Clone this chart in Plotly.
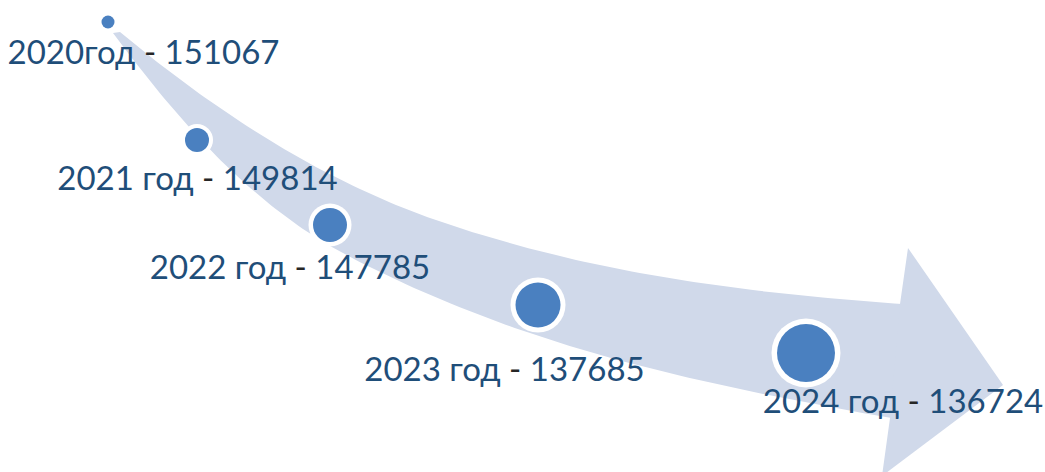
import numpy as np
import plotly.graph_objects as go

# ---- data ----
year_labels = ["2020год", "2021 год", "2022 год", "2023 год", "2024 год"]
values = [151067, 149814, 147785, 137685, 136724]

# ---- layout (pixel positions on a 1045x472 canvas) ----
node_x = [108, 197, 330, 538, 806]
node_y = [22, 140, 225, 305, 353]
inner_d = [13, 24, 34, 45, 58]
outer_d = [17, 32, 43, 55, 69]
label_x = [143.5, 197.5, 290, 504.5, 903]
label_y = [55.5, 182, 271, 373, 404.5]

# arrow outline as cubic bezier segments (decoration geometry)
upper_segs = [[(120, 32), (224, 119), (329, 182.6), (433, 219)],
              [(433, 219), (589, 273.6), (746, 293), (902, 304)]]
lower_segs = [[(113, 33), (200, 150.5), (271, 216), (350, 257)],
              [(350, 257), (530, 350.6), (710, 385.6), (890, 418)]]
head = [(900, 304), (908, 248), (1003, 385), (882, 476), (890, 418), (900, 304)]

BAND = "#D0D9EA"
DOT = "#4A80C0"
TXT = "#1F4E79"
DASH = "#262626"


def bezier(segs, n=60):
    pts = []
    t = np.linspace(0, 1, n)
    for p0, p1, p2, p3 in segs:
        p0, p1, p2, p3 = map(np.array, (p0, p1, p2, p3))
        c = (np.outer((1 - t) ** 3, p0) + np.outer(3 * t * (1 - t) ** 2, p1)
             + np.outer(3 * t ** 2 * (1 - t), p2) + np.outer(t ** 3, p3))
        pts.extend(map(tuple, c))
    return pts


upper = bezier(upper_segs) + [(930, 306)]
lower = bezier(lower_segs) + [(915, 422)]
shaft = upper + lower[::-1]

fig = go.Figure()
fig.add_trace(go.Scatter(
    x=[p[0] for p in shaft], y=[p[1] for p in shaft],
    mode="lines", fill="toself", fillcolor=BAND,
    line=dict(color=BAND, width=0),
    hoverinfo="skip", showlegend=False))
fig.add_trace(go.Scatter(
    x=[p[0] for p in head], y=[p[1] for p in head],
    mode="lines", fill="toself", fillcolor=BAND,
    line=dict(color=BAND, width=0),
    hoverinfo="skip", showlegend=False))
fig.add_trace(go.Scatter(
    x=node_x, y=node_y, mode="markers",
    marker=dict(size=outer_d, color="white", opacity=1, line=dict(width=0)),
    hoverinfo="skip", showlegend=False))
fig.add_trace(go.Scatter(
    x=node_x, y=node_y, mode="markers",
    marker=dict(size=inner_d, color=DOT, opacity=1, line=dict(width=0)),
    hoverinfo="skip", showlegend=False))

texts = [f"{y} <span style='color:{DASH}'>-</span> {v}" for y, v in zip(year_labels, values)]
fig.add_trace(go.Scatter(
    x=label_x, y=label_y, mode="text", text=texts,
    textposition="middle center",
    textfont=dict(family="Lato, Open Sans, sans-serif", size=33, color=TXT),
    hoverinfo="skip", showlegend=False))

fig.update_layout(
    width=1045, height=472,
    margin=dict(l=0, r=0, t=0, b=0),
    paper_bgcolor="white", plot_bgcolor="white",
    xaxis=dict(range=[0, 1045], visible=False, fixedrange=True),
    yaxis=dict(range=[472, 0], visible=False, fixedrange=True),
    showlegend=False,
)
fig.write_html(
    "out.html",
    config={"displayModeBar": False},
    post_script="document.body.style.margin='0';document.body.style.overflow='hidden';",
)
